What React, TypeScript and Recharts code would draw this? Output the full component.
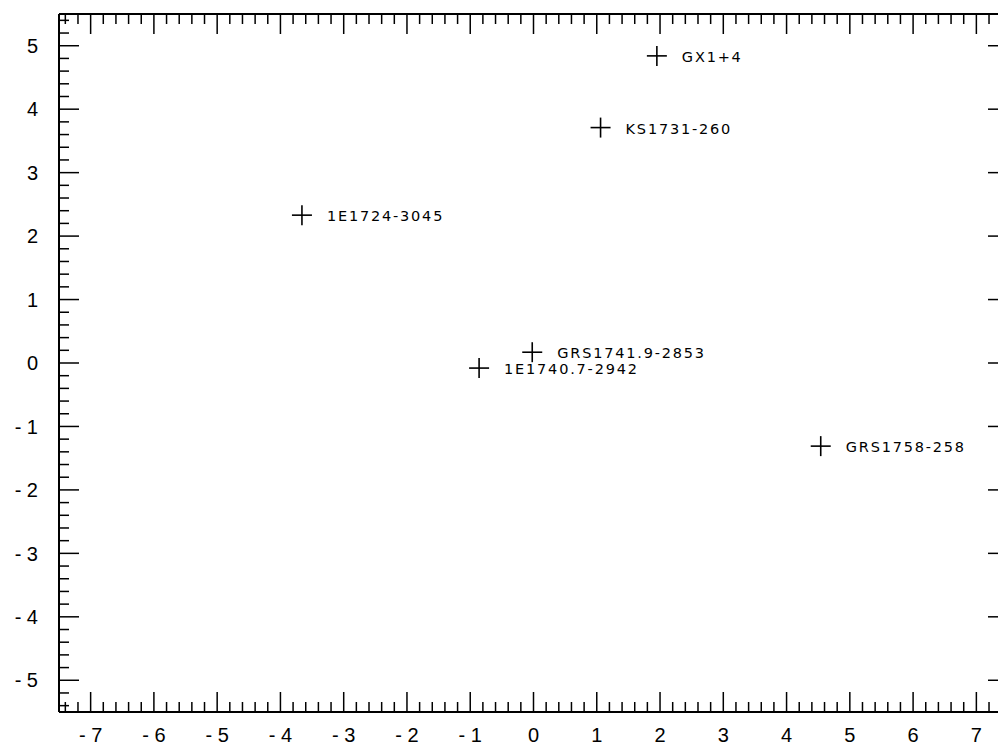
import { ScatterChart, Scatter, XAxis, YAxis } from "recharts";

// source names and their positions (galactic longitude / latitude, degrees)
const sourceNames = [
  "GX1+4",
  "KS1731-260",
  "1E1724-3045",
  "GRS1741.9-2853",
  "1E1740.7-2942",
  "GRS1758-258",
];
const longitudes = [1.95, 1.06, -3.66, -0.02, -0.86, 4.54];
const latitudes = [4.84, 3.71, 2.33, 0.17, -0.08, -1.31];

const xMajorTicks = [-7, -6, -5, -4, -3, -2, -1, 0, 1, 2, 3, 4, 5, 6, 7];
const yMajorTicks = [-5, -4, -3, -2, -1, 0, 1, 2, 3, 4, 5];

const X_DOMAIN: [number, number] = [-7.5, 7.5];
const Y_DOMAIN: [number, number] = [-5.5, 5.5];

// minor ticks every 0.2 inside the domain
function minorTicks(lo: number, hi: number): number[] {
  const out: number[] = [];
  for (let i = Math.ceil(lo * 5); i <= Math.floor(hi * 5); i++) {
    out.push(Math.round(i * 2) / 10);
  }
  return out;
}

const xTicks = minorTicks(X_DOMAIN[0], X_DOMAIN[1]);
const yTicks = minorTicks(Y_DOMAIN[0], Y_DOMAIN[1]);

const data = sourceNames.map((name, i) => ({
  name,
  l: longitudes[i],
  b: latitudes[i],
}));

const FONT = "'Liberation Sans', Arial, sans-serif";
const MAJOR = 20;
const MINOR = 10;

const isMajor = (v: number) => Math.abs(v - Math.round(v)) < 1e-6;
const fmt = (v: number) => {
  const r = Math.round(v);
  return r < 0 ? `- ${Math.abs(r)}` : `${r}`;
};

function BottomTick(props: any) {
  const { x, y, payload } = props;
  const major = isMajor(payload.value);
  return (
    <g>
      <line x1={x} x2={x} y1={y} y2={y - (major ? MAJOR : MINOR)} stroke="#000" strokeWidth={1.5} />
      {major && xMajorTicks.includes(Math.round(payload.value)) && (
        <text x={x} y={y + 30} textAnchor="middle" fontFamily={FONT} fontSize={20} fill="#000">
          {fmt(payload.value)}
        </text>
      )}
    </g>
  );
}

function TopTick(props: any) {
  const { x, y, payload } = props;
  const major = isMajor(payload.value);
  return <line x1={x} x2={x} y1={y} y2={y + (major ? MAJOR : MINOR)} stroke="#000" strokeWidth={1.5} />;
}

function LeftTick(props: any) {
  const { x, y, payload } = props;
  const major = isMajor(payload.value);
  return (
    <g>
      <line x1={x} x2={x + (major ? MAJOR : MINOR)} y1={y} y2={y} stroke="#000" strokeWidth={1.5} />
      {major && yMajorTicks.includes(Math.round(payload.value)) && (
        <text x={x - 21} y={y} dy="0.36em" textAnchor="end" fontFamily={FONT} fontSize={20} fill="#000">
          {fmt(payload.value)}
        </text>
      )}
    </g>
  );
}

function RightTick(props: any) {
  const { x, y, payload } = props;
  const major = isMajor(payload.value);
  return <line x1={x} x2={x - (major ? MAJOR : MINOR)} y1={y} y2={y} stroke="#000" strokeWidth={1.5} />;
}

function CrossLabel(props: any) {
  const { cx, cy, payload } = props;
  if (cx == null || cy == null) return null;
  return (
    <g>
      <line x1={cx - 10} x2={cx + 10} y1={cy} y2={cy} stroke="#000" strokeWidth={1.6} />
      <line x1={cx} x2={cx} y1={cy - 10} y2={cy + 10} stroke="#000" strokeWidth={1.6} />
      <text
        x={cx + 25}
        y={cy + 1}
        dy="0.36em"
        fontFamily="'DejaVu Sans', sans-serif"
        fontSize={14.5}
        letterSpacing={1.8}
        fill="#000"
      >
        {payload.name}
      </text>
    </g>
  );
}

const Nothing = () => null;

export default function App() {
  return (
    <div
      style={{
        position: "fixed",
        top: 0,
        left: 0,
        width: 998,
        height: 745,
        overflow: "hidden",
        background: "#fff",
      }}
    >
      <ScatterChart width={1016} height={745} margin={{ top: 13, right: 7, bottom: 0, left: 0 }}>
        <XAxis
          xAxisId="main"
          dataKey="l"
          type="number"
          orientation="bottom"
          domain={X_DOMAIN}
          allowDataOverflow
          ticks={xTicks}
          interval={0}
          height={33}
          tickSize={0}
          tickMargin={0}
          tickLine={false}
          axisLine={{ stroke: "#000", strokeWidth: 2 }}
          tick={<BottomTick />}
        />
        <XAxis
          xAxisId="top"
          dataKey="l"
          type="number"
          orientation="top"
          domain={X_DOMAIN}
          allowDataOverflow
          ticks={xTicks}
          interval={0}
          height={1}
          tickSize={0}
          tickMargin={0}
          tickLine={false}
          axisLine={{ stroke: "#000", strokeWidth: 2 }}
          tick={<TopTick />}
        />
        <YAxis
          yAxisId="main"
          dataKey="b"
          type="number"
          orientation="left"
          domain={Y_DOMAIN}
          allowDataOverflow
          ticks={yTicks}
          interval={0}
          width={59}
          tickSize={0}
          tickMargin={0}
          tickLine={false}
          axisLine={{ stroke: "#000", strokeWidth: 2 }}
          tick={<LeftTick />}
        />
        <YAxis
          yAxisId="right"
          dataKey="b"
          type="number"
          orientation="right"
          domain={Y_DOMAIN}
          allowDataOverflow
          ticks={yTicks}
          interval={0}
          width={1}
          tickSize={0}
          tickMargin={0}
          tickLine={false}
          axisLine={{ stroke: "#000", strokeWidth: 2 }}
          tick={<RightTick />}
        />
        <Scatter
          xAxisId="top"
          yAxisId="right"
          data={data}
          shape={<Nothing />}
          isAnimationActive={false}
        />
        <Scatter
          xAxisId="main"
          yAxisId="main"
          data={data}
          shape={<CrossLabel />}
          isAnimationActive={false}
        />
      </ScatterChart>
    </div>
  );
}
